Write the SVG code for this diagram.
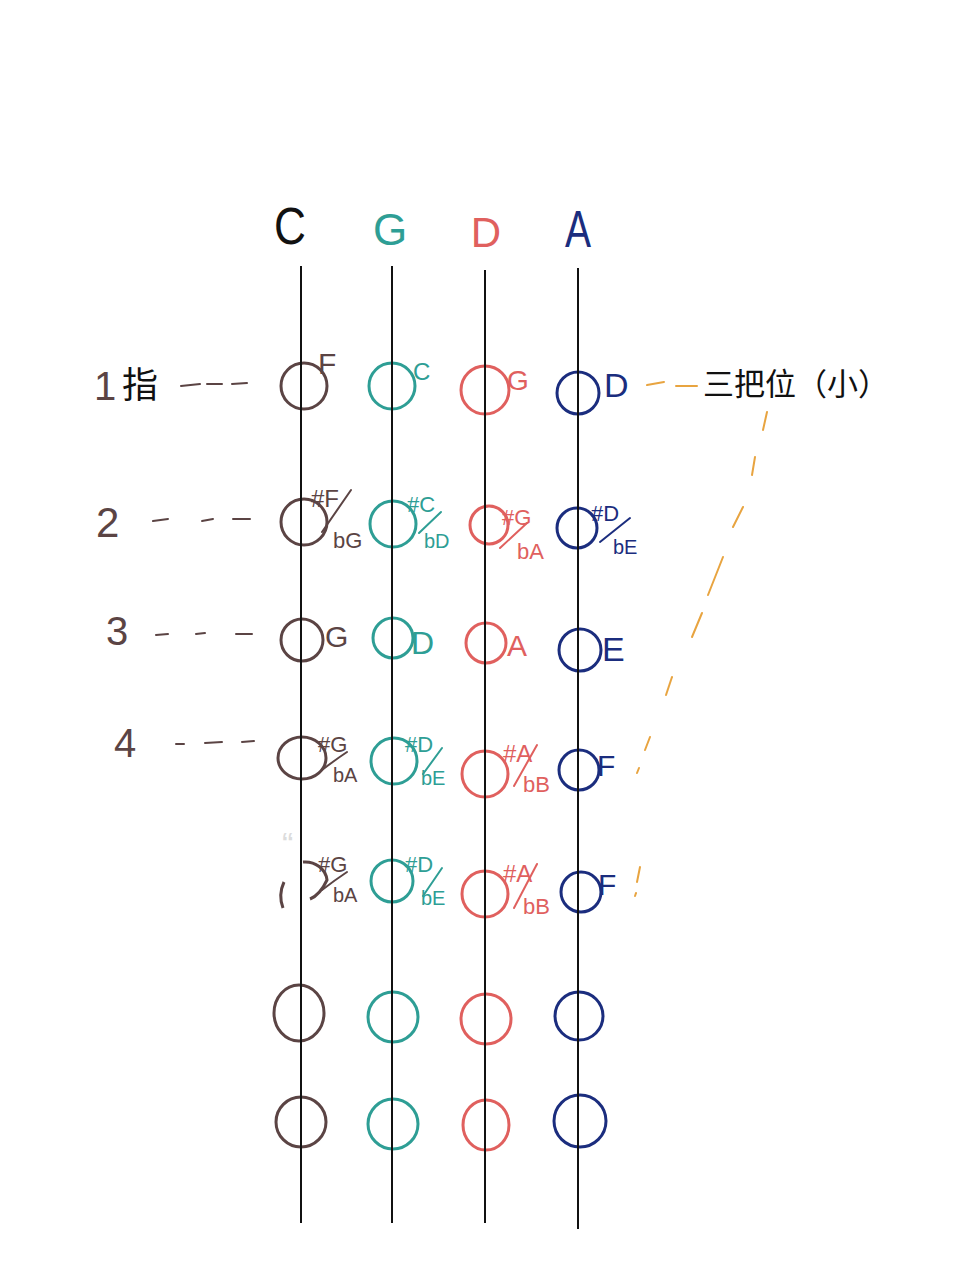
<svg xmlns="http://www.w3.org/2000/svg" width="960" height="1280" viewBox="0 0 960 1280">
<defs>
<style>
.hw{font-family:"Liberation Sans","DejaVu Sans",sans-serif;}
.br{fill:#5b4444;} .te{fill:#2e9e95;} .re{fill:#e0605e;} .nv{fill:#1b2d7e;}
.cb{fill:none;stroke:#5b4444;stroke-width:3;}
.ct{fill:none;stroke:#2e9e95;stroke-width:3;}
.cr{fill:none;stroke:#e0605e;stroke-width:3;}
.cn{fill:none;stroke:#1b2d7e;stroke-width:3;}
.sb{stroke:#5b4444;stroke-width:2;fill:none;stroke-linecap:round;}
.st{stroke:#2e9e95;stroke-width:2;fill:none;stroke-linecap:round;}
.sr{stroke:#e0605e;stroke-width:2;fill:none;stroke-linecap:round;}
.sn{stroke:#1b2d7e;stroke-width:2;fill:none;stroke-linecap:round;}
.str{stroke:#111;stroke-width:2;}
.dash{stroke:#5b4444;stroke-width:2;stroke-linecap:round;}
.or{stroke:#e8a440;stroke-width:2;stroke-linecap:round;fill:none;}
.cjk{font-family:"Noto Sans CJK SC","Noto Sans",sans-serif;fill:#111;}
</style>
<filter id="blur"><feGaussianBlur stdDeviation="3"/></filter>
</defs>
<rect width="960" height="1280" fill="#fff"/>

<g id="headers" class="hw">
<text x="290" y="244" font-size="52" text-anchor="middle" fill="#111" transform="translate(290 0) scale(0.85 1) translate(-290 0)">C</text>
<text x="390" y="245" font-size="44" text-anchor="middle" class="te">G</text>
<text x="486" y="247" font-size="42" text-anchor="middle" class="re">D</text>
<text x="578" y="247" font-size="52" text-anchor="middle" class="nv" transform="translate(578 0) scale(0.75 1) translate(-578 0)">A</text>
</g>

<g id="finger-labels" class="hw">
<text x="94" y="400" font-size="40" class="br">1</text>
<text x="122" y="398" font-size="36" class="cjk">指</text>
<text x="96" y="537" font-size="42" class="br">2</text>
<text x="106" y="645" font-size="40" class="br">3</text>
<text x="114" y="757" font-size="40" class="br">4</text>
</g>

<g id="position-label">
<text x="703" y="395" font-size="31" class="cjk">三把位（小）</text>
</g>

<!-- circles -->
<g id="row1">
<g id="n-C1"><circle cx="304" cy="386" r="23" class="cb"/><text x="318" y="374" font-size="30" class="hw br">F</text></g>
<g id="n-G1"><circle cx="392" cy="386" r="23" class="ct"/><text x="413" y="380" font-size="24" class="hw te">C</text></g>
<g id="n-D1"><circle cx="485" cy="390" r="24" class="cr"/><text x="507" y="390" font-size="28" class="hw re">G</text></g>
<g id="n-A1"><circle cx="578" cy="393" r="21" class="cn"/><text x="604" y="397" font-size="34" class="hw nv">D</text></g>
</g>

<g id="row2">
<g id="n-C2"><circle cx="304" cy="522" r="23" class="cb"/><text x="311" y="507" font-size="24" class="hw br">#F</text><line x1="322" y1="532" x2="351" y2="490" class="sb"/><text x="333" y="548" font-size="22" class="hw br">bG</text></g>
<g id="n-G2"><circle cx="393" cy="524" r="23" class="ct"/><text x="407" y="512" font-size="22" class="hw te">#C</text><line x1="419" y1="533" x2="441" y2="512" class="st"/><text x="424" y="548" font-size="20" class="hw te">bD</text></g>
<g id="n-D2"><circle cx="489" cy="525" r="19" class="cr"/><text x="502" y="525" font-size="22" class="hw re">#G</text><line x1="500" y1="548" x2="527" y2="523" class="sr"/><text x="517" y="559" font-size="22" class="hw re">bA</text></g>
<g id="n-A2"><circle cx="577" cy="528" r="20" class="cn"/><text x="591" y="521" font-size="22" class="hw nv">#D</text><line x1="600" y1="542" x2="630" y2="518" class="sn"/><text x="613" y="554" font-size="20" class="hw nv">bE</text></g>
</g>

<g id="row3">
<g id="n-C3"><circle cx="302" cy="640" r="21" class="cb"/><text x="325" y="647" font-size="30" class="hw br">G</text></g>
<g id="n-G3"><circle cx="393" cy="638" r="20" class="ct"/><text x="411" y="654" font-size="32" class="hw te">D</text></g>
<g id="n-D3"><circle cx="486" cy="643" r="20" class="cr"/><text x="507" y="656" font-size="30" class="hw re">A</text></g>
<g id="n-A3"><circle cx="580" cy="650" r="21" class="cn"/><text x="602" y="661" font-size="34" class="hw nv">E</text></g>
</g>

<g id="row4">
<g id="n-C4"><ellipse cx="302" cy="758" rx="24" ry="21" class="cb"/><path d="M322 770 Q335 760 347 752" class="sb"/><text x="318" y="752" font-size="22" class="hw br">#G</text><text x="333" y="782" font-size="20" class="hw br">bA</text></g>
<g id="n-G4"><circle cx="394" cy="761" r="23" class="ct"/><text x="405" y="752" font-size="22" class="hw te">#D</text><line x1="423" y1="774" x2="442" y2="748" class="st"/><text x="421" y="785" font-size="20" class="hw te">bE</text></g>
<g id="n-D4"><circle cx="485" cy="774" r="23" class="cr"/><text x="503" y="762" font-size="24" class="hw re">#A</text><line x1="514" y1="786" x2="537" y2="745" class="sr"/><text x="523" y="792" font-size="22" class="hw re">bB</text></g>
<g id="n-A4"><circle cx="579" cy="770" r="20" class="cn"/><text x="597" y="776" font-size="30" class="hw nv">F</text></g>
</g>

<g id="row5">
<g id="n-C5"><path d="M303 862 A22 20 0 0 1 327 880 Q320 895 310 899" class="cb"/><path d="M284 882 Q278 895 283 908" class="cb"/><path d="M322 890 Q335 880 347 872" class="sb"/><text x="318" y="872" font-size="22" class="hw br">#G</text><text x="333" y="902" font-size="20" class="hw br">bA</text><text x="282" y="856" font-size="34" class="hw" fill="#dcdcdc">“</text></g>
<g id="n-G5"><circle cx="392" cy="881" r="21" class="ct"/><text x="405" y="872" font-size="22" class="hw te">#D</text><line x1="423" y1="896" x2="442" y2="868" class="st"/><text x="421" y="905" font-size="20" class="hw te">bE</text></g>
<g id="n-D5"><circle cx="485" cy="894" r="23" class="cr"/><text x="503" y="882" font-size="24" class="hw re">#A</text><line x1="514" y1="908" x2="537" y2="864" class="sr"/><text x="523" y="914" font-size="22" class="hw re">bB</text></g>
<g id="n-A5"><circle cx="581" cy="892" r="20" class="cn"/><text x="598" y="895" font-size="30" class="hw nv">F</text></g>
</g>

<g id="row6">
<g id="n-C6"><ellipse cx="299" cy="1013" rx="25" ry="28" class="cb"/></g>
<g id="n-G6"><circle cx="393" cy="1017" r="25" class="ct"/></g>
<g id="n-D6"><circle cx="486" cy="1019" r="25" class="cr"/></g>
<g id="n-A6"><circle cx="579" cy="1016" r="24" class="cn"/></g>
</g>

<g id="row7">
<g id="n-C7"><circle cx="301" cy="1122" r="25" class="cb"/></g>
<g id="n-G7"><circle cx="393" cy="1124" r="25" class="ct"/></g>
<g id="n-D7"><ellipse cx="486" cy="1125" rx="23" ry="25" class="cr"/></g>
<g id="n-A7"><circle cx="580" cy="1121" r="26" class="cn"/></g>
</g>

<g id="strings">
<line x1="301" y1="266" x2="301" y2="1223" class="str"/>
<line x1="392" y1="266" x2="392" y2="1223" class="str"/>
<line x1="485" y1="270" x2="485" y2="1223" class="str"/>
<line x1="578" y1="268" x2="578" y2="1229" class="str"/>
</g>

<g id="connectors">
<line x1="181" y1="386" x2="200" y2="384" class="dash"/>
<line x1="207" y1="384" x2="222" y2="384" class="dash"/>
<line x1="232" y1="384" x2="247" y2="383" class="dash"/>
<line x1="153" y1="521" x2="168" y2="519" class="dash"/>
<line x1="202" y1="521" x2="213" y2="519" class="dash"/>
<line x1="233" y1="519" x2="250" y2="519" class="dash"/>
<line x1="156" y1="635" x2="168" y2="634" class="dash"/>
<line x1="196" y1="634" x2="205" y2="633" class="dash"/>
<line x1="236" y1="634" x2="252" y2="634" class="dash"/>
<line x1="176" y1="744" x2="184" y2="744" class="dash"/>
<line x1="205" y1="743" x2="222" y2="742" class="dash"/>
<line x1="242" y1="742" x2="254" y2="741" class="dash"/>
<line x1="647" y1="385" x2="664" y2="382" class="or"/>
<line x1="676" y1="386" x2="697" y2="386" class="or"/>
<line x1="767" y1="412" x2="763" y2="430" class="or"/>
<line x1="755" y1="457" x2="752" y2="475" class="or"/>
<line x1="743" y1="507" x2="733" y2="527" class="or"/>
<line x1="723" y1="557" x2="708" y2="595" class="or"/>
<line x1="702" y1="613" x2="692" y2="637" class="or"/>
<line x1="672" y1="677" x2="666" y2="695" class="or"/>
<line x1="650" y1="737" x2="645" y2="750" class="or"/>
<line x1="639" y1="768" x2="637" y2="773" class="or"/>
<line x1="640" y1="867" x2="637" y2="882" class="or"/>
<line x1="636" y1="893" x2="635" y2="896" class="or"/>
</g>
</svg>
